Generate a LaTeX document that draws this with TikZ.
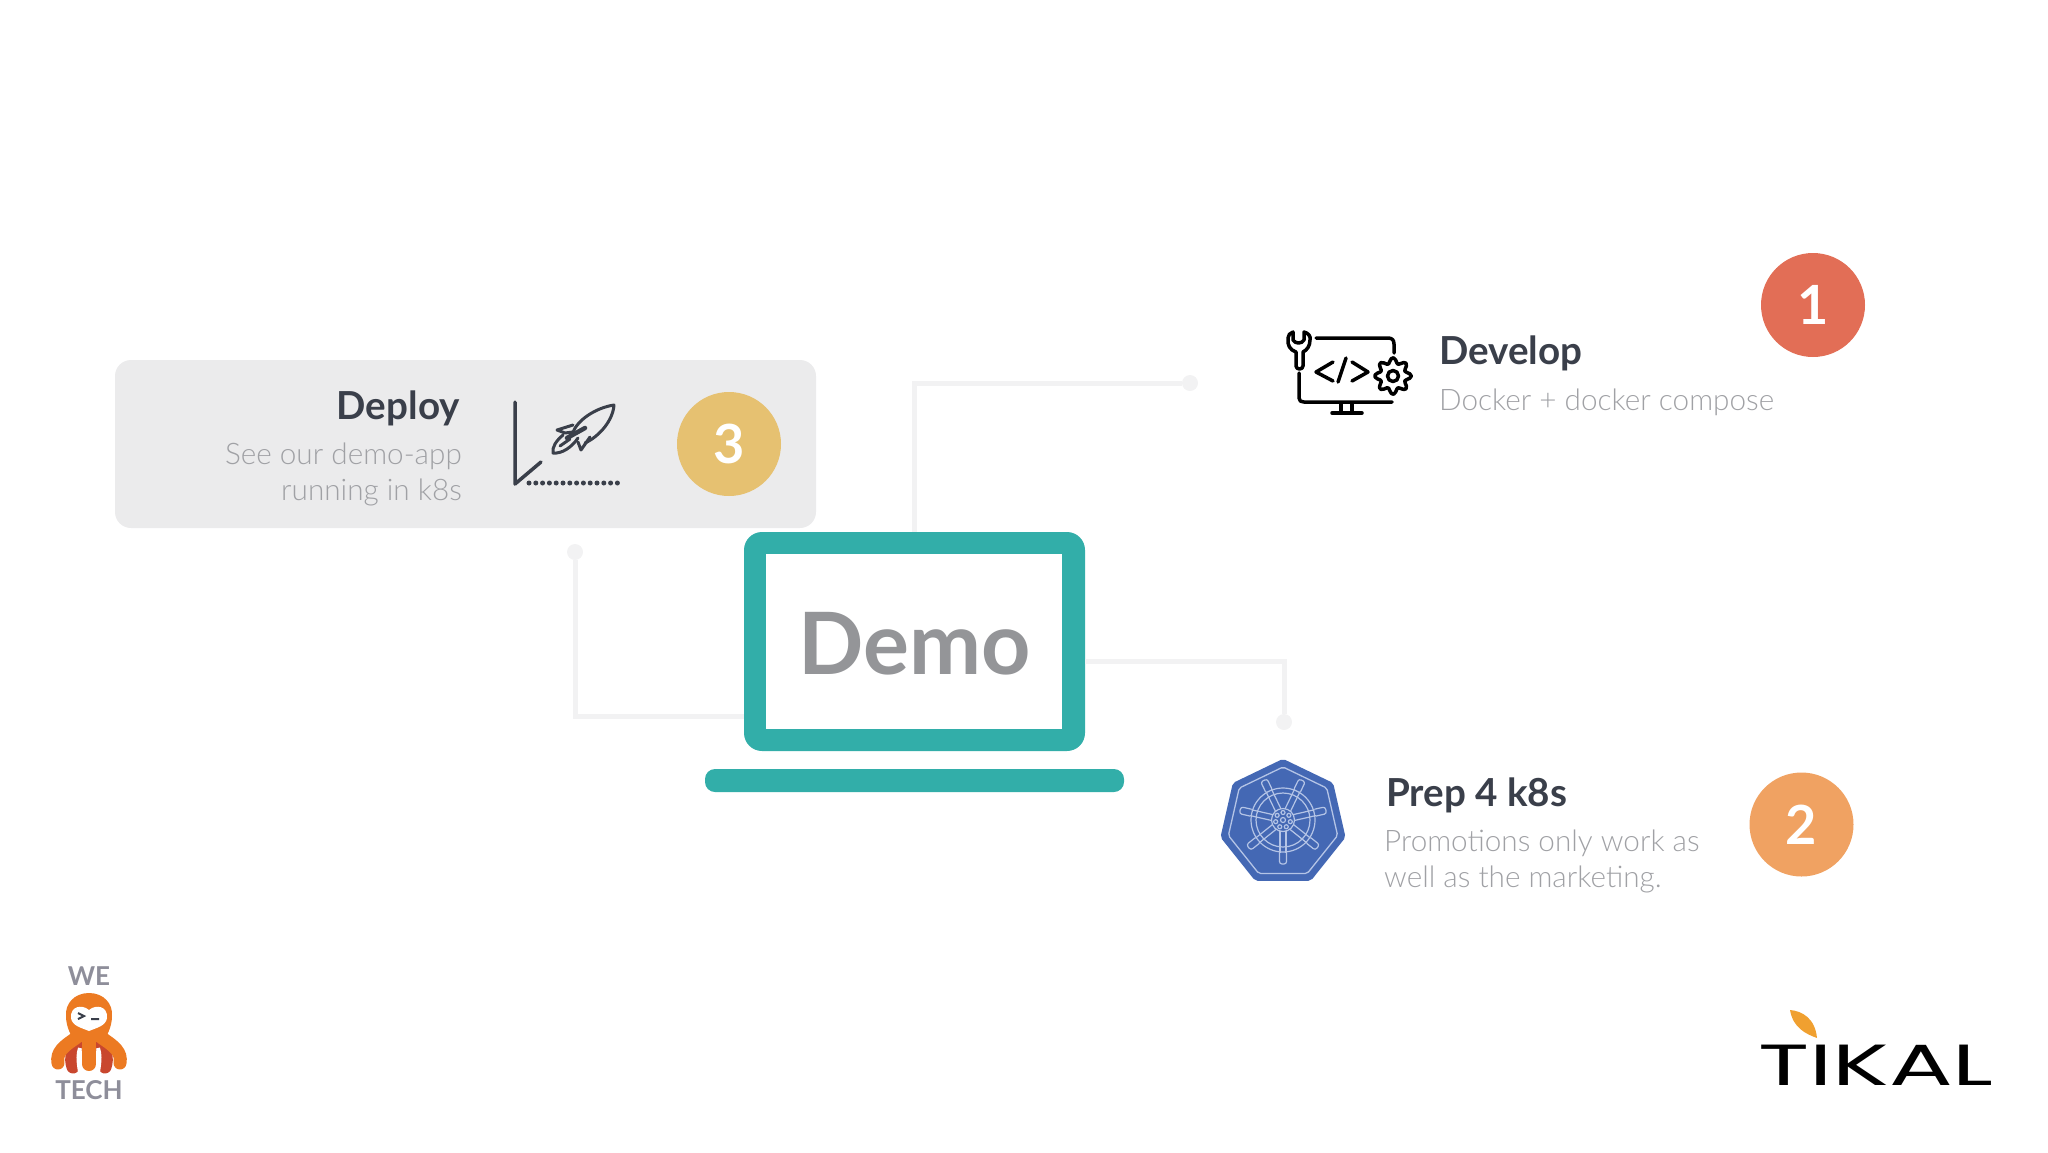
\documentclass[tikz,border=0pt]{standalone}
\usepackage{fontspec}
\usetikzlibrary{shapes.geometric,calc}
\setmainfont{Lato}
\newfontfamily\lightfont{Lato Light}
\newfontfamily\logofont{Poppins}
\definecolor{teal1}{HTML}{32AEA9}
\definecolor{wire}{HTML}{F2F2F3}
\definecolor{panelgray}{HTML}{EBEBEC}
\definecolor{demogray}{HTML}{949598}
\definecolor{inkdark}{HTML}{3A3F4A}
\definecolor{inkpale}{HTML}{A0A1A5}
\definecolor{kube}{HTML}{4468B4}
\definecolor{kubeline}{HTML}{B4C4E6}
\definecolor{octo}{HTML}{EC7A22}
\definecolor{octored}{HTML}{C9472E}
\definecolor{numred}{HTML}{E26E56}
\definecolor{numorange}{HTML}{F0A262}
\definecolor{numyellow}{HTML}{E6C171}
\definecolor{logogray}{HTML}{8E8E9A}
\definecolor{leaf}{HTML}{F0A030}
\tikzset{
  numdot/.style={circle,minimum size=104pt,inner sep=0pt,text=white,font=\fontsize{54}{60}\selectfont\bfseries},
  wiredot/.style={circle,fill=wire,minimum size=16pt,inner sep=0pt},
  wireline/.style={wire,line width=5pt},
  heading/.style={inner sep=0pt,text=inkdark,font=\fontsize{38.6}{44}\selectfont\bfseries},
  subhead/.style={inner sep=0pt,text=inkpale,font=\fontsize{29.7}{36}\selectfont\lightfont},
  icon/.style={line width=3.5pt,line cap=round,line join=round},
  rockline/.style={inkdark,line width=3pt,line cap=round,line join=round},
  octoleg/.style={line width=13pt,line cap=round},
  wetech/.style={inner sep=0pt,text=logogray,font=\fontsize{26}{30}\selectfont\bfseries}
}
\begin{document}
\begin{tikzpicture}[x=1pt,y=-1pt]
\useasboundingbox (0,0) rectangle (2048,1152);
\node[fill=panelgray,rounded corners=16pt,minimum width=701pt,minimum height=168pt,inner sep=0pt] (panel) at (465.5,444) {};
\node[fill=teal1,rounded corners=18pt,minimum width=341pt,minimum height=219pt,inner sep=0pt] (screen) at (914.5,641.5) {};
\node[fill=white,minimum width=296pt,minimum height=175pt,inner sep=0pt] (glass) at (914,641.5) {};
\node[inner sep=0pt,text=demogray,anchor=base,font=\fontsize{86}{90}\selectfont\bfseries] (demo) at (915,674) {Demo};
\node[fill=teal1,rounded corners=10pt,minimum width=419pt,minimum height=23pt,inner sep=0pt] (base) at (914.5,780.5) {};
\node[wiredot] (devdot) at (1190,383) {};
\node[wiredot] (prepdot) at (1284,722) {};
\node[wiredot] (deploydot) at (575,552) {};
\draw[wireline] (screen.north) |- (devdot);
\draw[wireline] ($(screen.east)+(0,20)$) -| (prepdot);
\draw[wireline] ($(screen.west)+(0,74.5)$) -| (deploydot);

\node[numdot,fill=numred] (one) at (1813,305) {1};
\node[numdot,fill=numorange] (two) at (1801.5,824.5) {2};
\node[numdot,fill=numyellow] (three) at (729,444) {3};

\node[heading,anchor=base west] (develop) at (1439,364) {Develop};
\node[subhead,anchor=base west] (developsub) at (1439,410) {Docker + docker compose};
\node[heading,anchor=base west] (prep) at (1386,806) {Prep 4 k8s};
\node[subhead,anchor=north west,align=left] (prepsub) at (1384,830) {Promotions only work as\\well as the marketing.};
\node[heading,anchor=base east] (deploy) at (460,419) {Deploy};
\node[subhead,anchor=north east,align=right] (deploysub) at (462,443) {See our demo-app\\running in k8s};

% develop icon
\draw[icon] (1316,338) -- (1388,338) .. controls (1392,338) and (1394,340) .. (1394,344) -- (1394,353);
\draw[icon] (1299,373) -- (1299,398) .. controls (1299,401) and (1301,402) .. (1304,402) -- (1392,402);
\draw[icon] (1341,403) -- (1341,413) (1352,403) -- (1352,413) (1332,413) -- (1362,413);
\draw[icon] (1296,352) .. controls (1290,350) and (1287,345) .. (1288,338) .. controls (1288,335) and (1290,333) .. (1293,332) -- (1293,340) .. controls (1295,344) and (1302,344) .. (1304,340) -- (1304,332) .. controls (1308,333) and (1311,336) .. (1310,340) .. controls (1310,346) and (1307,350) .. (1303,352) -- (1303,366) .. controls (1303,370) and (1296,370) .. (1296,366) -- cycle;
\draw[icon] (1333,362) -- (1316,372) -- (1333,381) (1346,358) -- (1338,382) (1352,362) -- (1368,372) -- (1352,381);
\draw[icon,fill=white,shift={(1393,376)}] plot[smooth cycle,samples=49,domain=0:352.5] (\x:{15.5+2.8*cos(8*\x)});
\draw[icon,shift={(1393,376)}] (0,0) circle (5.5pt);

% rocket icon
\draw[rockline,line width=3.5pt] (515,402) -- (515,484) -- (541,462);
\draw[inkdark,line width=5pt,line cap=round,dash pattern=on 0pt off 6.8pt] (529,483) -- (618,483);
\draw[rockline] (573,432) .. controls (578,420) and (595,408) .. (614,405) .. controls (613,420) and (600,436) .. (585,443);
\draw[rockline] (573,425) -- (557,430) -- (565,433) -- (573,432);
\draw[rockline] (590,437) -- (581,450) -- (578,442);
\draw[rockline] (563,435) .. controls (556,441) and (552,447) .. (553,453) .. controls (562,454) and (572,447) .. (578,438);
\draw[rockline,line width=4.5pt] (567,438) -- (585,428);
\draw[rockline] (560,446) -- (570,439);

% k8s wheel
\node[regular polygon,regular polygon sides=7,fill=kube,draw=kube,line width=3pt,rounded corners=2pt,minimum size=125pt,inner sep=0pt] (helm) at (1283,823) {};
\node[regular polygon,regular polygon sides=7,draw=kubeline,line width=1.3pt,rounded corners=2pt,minimum size=112pt,inner sep=0pt] (helmrim) at (1283,823) {};
\foreach \a in {0,...,6}{
  \fill[kube,shift={(1283,820)},rotate=-90+\a*360/7] (11,-3.5) rectangle (43,3.5);
  \draw[kubeline,line width=1.2pt,rounded corners=2.5pt,shift={(1283,820)},rotate=-90+\a*360/7] (33,-3.5) -- (44,-3.5) -- (44,3.5) -- (33,3.5);
  \draw[kubeline,line width=1.2pt,shift={(1283,820)}] (-90+\a*360/7:7.5) circle (2pt);
}
\draw[kubeline,line width=1.2pt,shift={(1283,820)}] (0,0) circle (11.5pt) (0,0) circle (2.5pt) (0,0) circle (27pt) (0,0) circle (32pt);
\foreach \a in {0,...,6}{
  \draw[kubeline,line width=1.2pt,shift={(1283,820)},rotate=-90+\a*360/7] (11,-3) -- (33,-3) (11,3) -- (33,3);
}

% we tech logo
\node[wetech] (we) at (89,976) {WE};
\node[wetech] (tech) at (89,1090) {TECH};
\draw[octored,octoleg] (80,1042) .. controls (72,1050) and (70,1058) .. (73,1067);
\draw[octored,octoleg] (98,1042) .. controls (106,1050) and (108,1058) .. (105,1067);
\draw[white,line width=4pt] (80,1048) .. controls (78,1054) and (78,1060) .. (80,1072);
\draw[white,line width=4pt] (98,1048) .. controls (100,1054) and (100,1060) .. (98,1072);
\draw[octo,octoleg] (76,1038) .. controls (64,1046) and (56,1052) .. (58,1063);
\draw[octo,octoleg] (102,1038) .. controls (114,1046) and (122,1052) .. (120,1063);
\draw[octo,line width=14pt,line cap=round] (89,1030) -- (89,1064);
\fill[octo] (89,993) .. controls (104,993) and (113,1004) .. (112,1016) .. controls (112,1028) and (106,1036) .. (104,1042) -- (74,1042) .. controls (72,1036) and (66,1028) .. (66,1016) .. controls (65,1004) and (74,993) .. (89,993) -- cycle;
\fill[white] (89,1010) .. controls (96,1004) and (108,1006) .. (107,1018) .. controls (106,1026) and (96,1028) .. (89,1031) .. controls (82,1028) and (72,1026) .. (71,1018) .. controls (70,1006) and (82,1004) .. (89,1010) -- cycle;
\draw[inkdark,line width=2pt] (78,1013) -- (84,1016) -- (78,1019) (91,1019) -- (99,1019);

% tikal logo
\fill[leaf] (1790,1010) .. controls (1802,1011) and (1815,1018) .. (1817,1038) .. controls (1806,1034) and (1793,1028) .. (1790,1010) -- cycle;
\node[inner sep=0pt,anchor=base,transform shape,xscale=1.63,font=\fontsize{58}{66}\logofont] (tikal) at (1876,1085) {TIKAL};
\end{tikzpicture}
\end{document}
